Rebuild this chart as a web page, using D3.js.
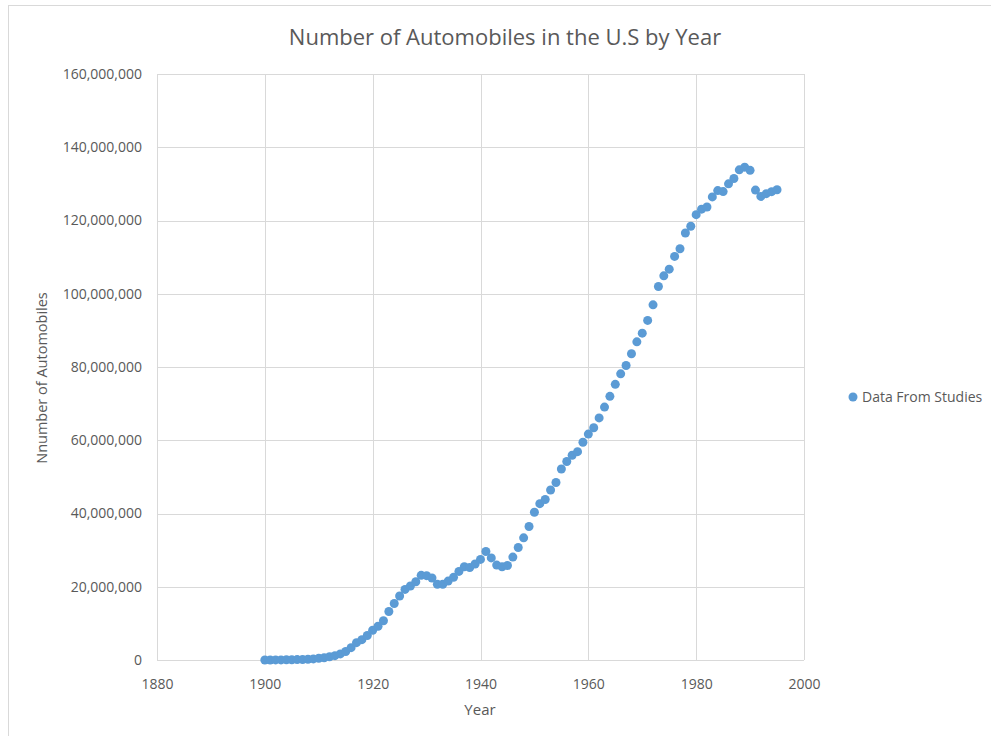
<!DOCTYPE html>
<html>
<head>
<meta charset="utf-8">
<script src="https://cdn.jsdelivr.net/npm/d3@7"></script>
<style>
  body { margin: 0; background: #fff; }
  text { font-family: "Open Sans", sans-serif; }
</style>
</head>
<body>
<div class="chart"></div>
<script>
// registered automobiles (millions)
const years = d3.range(1900, 1996);
const cars = [
  0.008, 0.015, 0.023, 0.033, 0.055, 0.078, 0.106, 0.140, 0.194, 0.306,
  0.458, 0.619, 0.902, 1.190, 1.664, 2.332, 3.368, 4.727, 5.555, 6.679,
  8.131, 9.212, 10.704, 13.253, 15.436, 17.481, 19.268, 20.193, 21.362, 23.121,
  23.035, 22.396, 20.697, 20.657, 21.545, 22.568, 24.183, 25.467, 25.250, 26.226,
  27.466, 29.624, 27.869, 25.913, 25.466, 25.797, 28.100, 30.719, 33.355, 36.458,
  40.339, 42.688, 43.823, 46.429, 48.468, 52.145, 54.211, 55.918, 56.891, 59.454,
  61.682, 63.417, 66.108, 69.055, 71.983, 75.258, 78.123, 80.414, 83.604, 86.861,
  89.244, 92.718, 96.981, 101.985, 104.898, 106.706, 110.189, 112.288, 116.575, 118.429,
  121.601, 123.098, 123.698, 126.444, 128.158, 127.885, 130.004, 131.482, 133.836, 134.559,
  133.700, 128.300, 126.581, 127.327, 127.883, 128.387
];
const xTicks = [1880, 1900, 1920, 1940, 1960, 1980, 2000];
const yTicks = [0, 20e6, 40e6, 60e6, 80e6, 100e6, 120e6, 140e6, 160e6];

const data = years.map((y, i) => ({year: y, count: cars[i] * 1e6}));

const W = 991, H = 736;
const svg = d3.select(".chart").append("svg")
  .attr("width", W).attr("height", H);

// chart frame
svg.append("rect")
  .attr("x", 8.5).attr("y", 5.5)
  .attr("width", W + 10).attr("height", H + 10)
  .attr("fill", "#fff").attr("stroke", "#d9d9d9");

const plot = {left: 157, right: 804, top: 74, bottom: 660};

const xScale = d3.scaleLinear().domain([1880, 2000]).range([plot.left, plot.right]);
const yScale = d3.scaleLinear().domain([0, 160e6]).range([plot.bottom, plot.top]);

// gridlines
svg.append("g")
  .selectAll("line")
  .data(yTicks)
  .join("line")
  .attr("x1", plot.left).attr("x2", plot.right)
  .attr("y1", d => Math.round(yScale(d)) + 0.5)
  .attr("y2", d => Math.round(yScale(d)) + 0.5)
  .attr("stroke", "#d9d9d9");

svg.append("g")
  .selectAll("line")
  .data(xTicks)
  .join("line")
  .attr("y1", plot.top).attr("y2", plot.bottom)
  .attr("x1", d => Math.round(xScale(d)) + 0.5)
  .attr("x2", d => Math.round(xScale(d)) + 0.5)
  .attr("stroke", "#d9d9d9");

// axes (labels only)
const yAxis = d3.axisLeft(yScale)
  .tickValues(yTicks)
  .tickSize(0)
  .tickPadding(15)
  .tickFormat(d3.format(","));

svg.append("g")
  .attr("transform", `translate(${plot.left},0)`)
  .call(yAxis)
  .call(g => g.select(".domain").remove())
  .call(g => g.selectAll("text")
    .attr("font-family", "Open Sans, sans-serif")
    .attr("font-size", 14)
    .attr("fill", "#595959"));

const xAxis = d3.axisBottom(xScale)
  .tickValues(xTicks)
  .tickSize(0)
  .tickPadding(19)
  .tickFormat(d3.format("d"));

svg.append("g")
  .attr("transform", `translate(0,${plot.bottom})`)
  .call(xAxis)
  .call(g => g.select(".domain").remove())
  .call(g => g.selectAll("text")
    .attr("font-family", "Open Sans, sans-serif")
    .attr("font-size", 14)
    .attr("fill", "#595959"));

// points
svg.append("g")
  .selectAll("circle")
  .data(data)
  .join("circle")
  .attr("cx", d => xScale(d.year))
  .attr("cy", d => yScale(d.count))
  .attr("r", 4.5)
  .attr("fill", "#5b9bd5");

// title & axis titles
svg.append("text")
  .attr("x", 505).attr("y", 45)
  .attr("text-anchor", "middle")
  .attr("font-size", 22)
  .attr("fill", "#595959")
  .text("Number of Automobiles in the U.S by Year");

svg.append("text")
  .attr("x", 480).attr("y", 715)
  .attr("text-anchor", "middle")
  .attr("font-size", 15)
  .attr("fill", "#595959")
  .text("Year");

svg.append("text")
  .attr("transform", "translate(47,378) rotate(-90)")
  .attr("text-anchor", "middle")
  .attr("font-size", 14.5)
  .attr("fill", "#595959")
  .text("Nnumber of Automobiles");

// legend
svg.append("circle")
  .attr("cx", 853).attr("cy", 397).attr("r", 4.5)
  .attr("fill", "#5b9bd5");
svg.append("text")
  .attr("x", 862).attr("y", 402)
  .attr("font-size", 14)
  .attr("fill", "#595959")
  .text("Data From Studies");
</script>
</body>
</html>
